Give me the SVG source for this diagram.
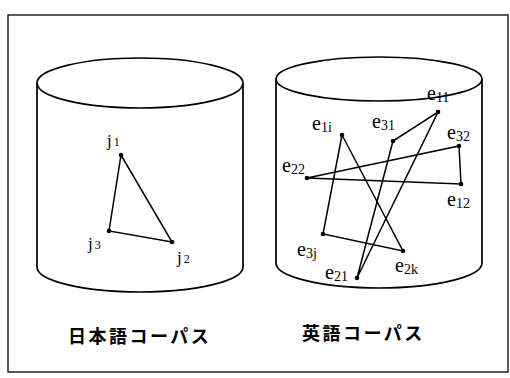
<svg xmlns="http://www.w3.org/2000/svg" width="510" height="378" viewBox="0 0 510 378">
<style>
.cyl{fill:none;stroke:#000;stroke-width:1.7}
.e{stroke:#000;stroke-width:1.5;fill:none}
.pt{fill:#000}
.lb{font-family:"Liberation Serif","Times New Roman",serif;font-size:20px;fill:#000}
.lj{font-size:17px}
.sb{font-size:14px}
.sj{font-size:12px}
.jp{font-family:"Noto Sans CJK JP","Noto Sans CJK SC",sans-serif;font-size:18px;font-weight:bold;fill:#000;letter-spacing:2.5px}
</style>
<rect width="510" height="378" fill="#fff"/>
<rect x="8" y="15" width="500" height="357" fill="none" stroke="#000" stroke-width="1.3"/>
<g id="jp-corpus">
<ellipse class="cyl" cx="140" cy="83" rx="103" ry="25"/>
<path class="cyl" d="M37 83 V267 A103 25 0 0 0 243 267 V83"/>
<text class="jp" x="68" y="343">日本語コーパス</text>
</g>
<g id="en-corpus">
<ellipse class="cyl" cx="379" cy="79" rx="103" ry="22"/>
<path class="cyl" d="M276 79 V263 A103 25 0 0 0 482 263 V79"/>
<text class="jp" x="302" y="340">英語コーパス</text>
</g>
<g id="connectors">
<polyline class="e" points="121,155 172,242 109,231 121,155"/>
<polyline class="e" points="342,135 403,251 323,234 342,135"/>
<polyline class="e" points="393,141 438,112 357,278 393,141"/>
<polyline class="e" points="307,178 459,146 461,184 307,178"/>
</g>
<g id="j1"><circle class="pt" cx="121" cy="155" r="2.3"/><text class="lb lj" x="107" y="146">j<tspan class="sj" dx="2">1</tspan></text></g>
<g id="j2"><circle class="pt" cx="172" cy="242" r="2.3"/><text class="lb lj" x="177" y="263">j<tspan class="sj" dx="2">2</tspan></text></g>
<g id="j3"><circle class="pt" cx="109" cy="231" r="2.3"/><text class="lb lj" x="88" y="249">j<tspan class="sj" dx="2">3</tspan></text></g>
<g id="e1i"><circle class="pt" cx="342" cy="135" r="2.3"/><text class="lb" x="312" y="130">e<tspan class="sb" dy="2">1i</tspan></text></g>
<g id="e31"><circle class="pt" cx="393" cy="141" r="2.3"/><text class="lb" x="372" y="128">e<tspan class="sb" dy="2">31</tspan></text></g>
<g id="e11"><circle class="pt" cx="438" cy="112" r="2.3"/><text class="lb" x="427" y="100">e<tspan class="sb" dy="2">11</tspan></text></g>
<g id="e32"><circle class="pt" cx="459" cy="146" r="2.3"/><text class="lb" x="447" y="139">e<tspan class="sb" dy="2">32</tspan></text></g>
<g id="e22"><circle class="pt" cx="307" cy="178" r="2.3"/><text class="lb" x="282" y="172">e<tspan class="sb" dy="2">22</tspan></text></g>
<g id="e12"><circle class="pt" cx="461" cy="184" r="2.3"/><text class="lb" x="447" y="206">e<tspan class="sb" dy="2">12</tspan></text></g>
<g id="e3j"><circle class="pt" cx="323" cy="234" r="2.3"/><text class="lb" x="297" y="256">e<tspan class="sb" dy="2">3j</tspan></text></g>
<g id="e2k"><circle class="pt" cx="403" cy="251" r="2.3"/><text class="lb" x="395" y="272">e<tspan class="sb" dy="2">2k</tspan></text></g>
<g id="e21"><circle class="pt" cx="357" cy="278" r="2.3"/><text class="lb" x="325" y="279">e<tspan class="sb" dy="2">21</tspan></text></g>
</svg>
